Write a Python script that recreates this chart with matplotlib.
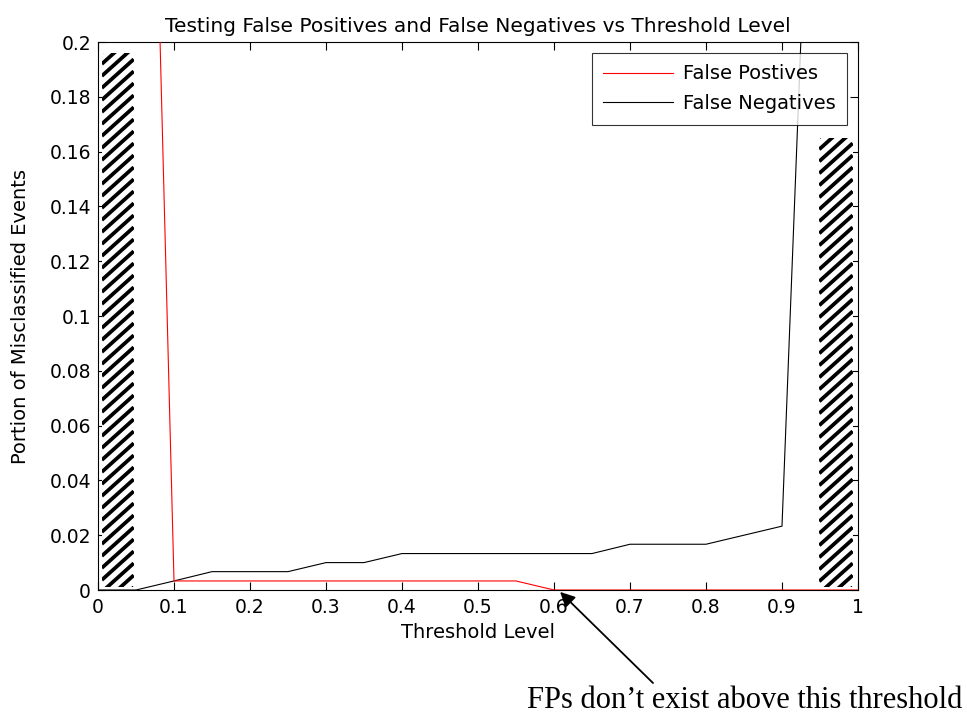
import numpy as np
import matplotlib
matplotlib.use("Agg")
import matplotlib.pyplot as plt
from matplotlib.patches import Rectangle

plt.rcParams['font.family'] = ['DejaVu Sans']

threshold = [0.0, 0.05, 0.1, 0.15, 0.2, 0.25, 0.3, 0.35, 0.4, 0.45, 0.5, 0.55,
             0.6, 0.65, 0.7, 0.75, 0.8, 0.85, 0.9, 0.95, 1.0]
false_pos = [1.0, 0.54, 0.0033, 0.0033, 0.0033, 0.0033, 0.0033, 0.0033, 0.0033,
             0.0033, 0.0033, 0.0033, 0.0, 0.0, 0.0, 0.0, 0.0, 0.0, 0.0, 0.0, 0.0]
false_neg = [0.0, 0.0, 0.0033, 0.0067, 0.0067, 0.0067, 0.01, 0.01, 0.0133, 0.0133,
             0.0133, 0.0133, 0.0133, 0.0133, 0.0167, 0.0167, 0.0167, 0.02, 0.0233,
             0.38, 1.0]

# hatched excluded regions: (x0, x1, y0, y1)
hatch_regions = [(0.005, 0.047, 0.001, 0.196), (0.949, 0.993, 0.001, 0.165)]

W, H = 967, 717
fig = plt.figure(figsize=(W / 100, H / 100), dpi=100)
L, R, T, B = 98, 858, 42, 590
ax = fig.add_axes([L / W, (H - B) / H, (R - L) / W, (B - T) / H])

ax.plot(threshold, false_pos, color='red', lw=0.8, label='False Postives', zorder=3)
ax.plot(threshold, false_neg, color='black', lw=0.8, label='False Negatives', zorder=2)

ax.set_xlim(0, 1)
ax.set_ylim(0, 0.2)
ax.set_xticks(np.arange(0, 1.01, 0.1))
ax.set_xticklabels(['0', '0.1', '0.2', '0.3', '0.4', '0.5', '0.6', '0.7', '0.8', '0.9', '1'])
ax.set_yticks(np.arange(0, 0.201, 0.02))
ax.set_yticklabels(['0', '0.02', '0.04', '0.06', '0.08', '0.1', '0.12', '0.14',
                    '0.16', '0.18', '0.2'])
ax.tick_params(direction='in', top=True, right=True, length=5.5, width=0.8,
               labelsize=13.5)
ax.tick_params(axis='y', pad=5)
ax.tick_params(axis='x', pad=6)
for s in ax.spines.values():
    s.set_linewidth(0.8)

# hatched rectangles (drawn as white boxes with thick diagonal stripes)
px_x = (R - L) / 1.0
px_y = (B - T) / 0.2
spacing_px = 12.0
slope_px = 0.9
for (x0, x1, y0, y1) in hatch_regions:
    rect = Rectangle((x0, y0), x1 - x0, y1 - y0, facecolor='white',
                     edgecolor='none', zorder=4)
    ax.add_patch(rect)
    wpx = (x1 - x0) * px_x
    hpx = (y1 - y0) * px_y
    n = int((hpx + wpx * slope_px) / spacing_px) + 2
    for k in range(-1, n):
        yb = y0 + (k * spacing_px - wpx * slope_px) / px_y
        ye = yb + wpx * slope_px / px_y
        ln, = ax.plot([x0, x1], [yb, ye], color='black', lw=2.7,
                      solid_capstyle='butt', zorder=5)
        ln.set_clip_path(rect)

ax.set_title('Testing False Positives and False Negatives vs Threshold Level',
             fontsize=14.5, pad=7)
ax.set_xlabel('Threshold Level', fontsize=14, labelpad=4)
ax.set_ylabel('Portion of Misclassified Events', fontsize=14, labelpad=14)

leg = ax.legend(loc='upper right', fontsize=14, frameon=True, fancybox=False,
                edgecolor='black', handlelength=3.6, borderaxespad=0.55,
                labelspacing=0.55, borderpad=0.6, handletextpad=0.5)
leg.get_frame().set_linewidth(0.8)
leg.set_zorder(6)

fig.text(745 / W, (H - 708) / H, 'FPs don\u2019t exist above this threshold',
         ha='center', va='baseline', fontsize=22,
         family=['Liberation Serif', 'DejaVu Serif'])
ax.annotate('', xy=(0.608, -0.0007), xycoords='data',
            xytext=(653 / W, (H - 683) / H), textcoords='figure fraction',
            arrowprops=dict(arrowstyle='-|>', color='black', lw=1.3,
                            mutation_scale=22, shrinkA=0, shrinkB=0),
            annotation_clip=False)

fig.savefig('out.png', dpi=100, facecolor='white')
